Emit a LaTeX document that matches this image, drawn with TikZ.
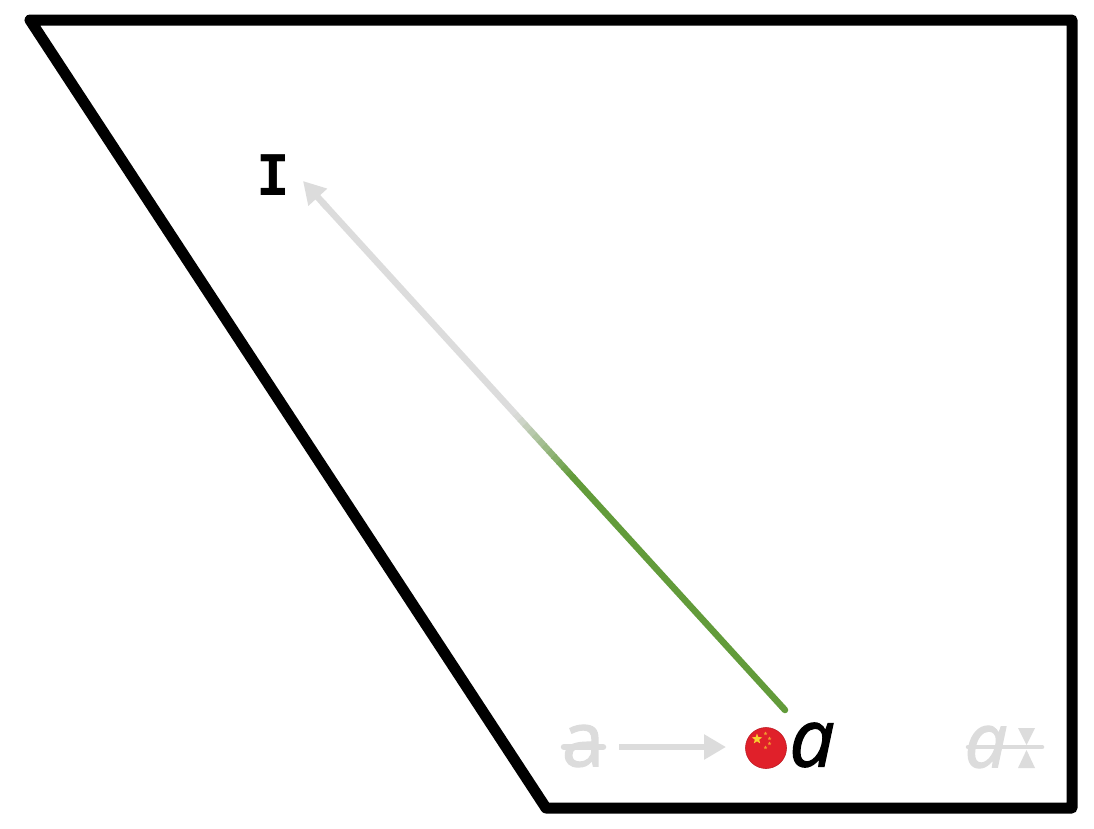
\documentclass[tikz,border=0pt]{standalone}
\usepackage{fontspec}
\setmainfont{Open Sans}
\newfontfamily\monoI{DejaVu Sans Mono}
\newfontfamily\heavyA[FakeBold=1.6]{Open Sans}
\newfontfamily\heavyAit[FakeBold=1.6,ItalicFont={Open Sans Italic}]{Open Sans}
\usetikzlibrary{arrows.meta,calc,shapes.geometric}
\definecolor{ghost}{HTML}{DCDCDC}
\definecolor{leaf}{HTML}{629B3A}
\definecolor{flagred}{HTML}{E0202A}
\definecolor{flagyellow}{HTML}{F8D030}
\tikzset{
  frameline/.style={draw=black,line width=11pt,line join=round,line cap=round},
  ghostline/.style={draw=ghost,line width=6.5pt,line cap=round},
  ghostarrow/.style={ghostline,line cap=butt,-{Triangle[length=22pt,width=24pt]}},
  ghostglyph/.style={text=ghost,inner sep=0pt,font=\fontsize{76}{76}\selectfont\heavyA},
  inkglyph/.style={text=black,inner sep=0pt,font=\fontsize{80}{80}\selectfont\heavyAit\itshape},
  bigstar/.style={star,star points=5,star point ratio=2.4,fill=flagyellow,inner sep=0pt,minimum size=11pt},
  tinystar/.style={star,star points=5,star point ratio=2.2,fill=flagyellow!70!flagred,inner sep=0pt,minimum size=4pt},
  marktri/.style={fill=ghost,draw=none},
}
\begin{document}
\begin{tikzpicture}[x=1pt,y=-1pt]
\useasboundingbox (0,0) rectangle (1094,828);
\fill[white] (0,0) rectangle (1094,828);
% frame
\coordinate (p1) at (30,20);
\coordinate (p2) at (1072,20);
\coordinate (p3) at (1072,808);
\coordinate (p4) at (546,808);
\draw[frameline] (p1) -- (p2) -- (p3) -- (p4) -- cycle;
% labels
\node[inner sep=0pt,font=\fontsize{56}{56}\selectfont\monoI\bfseries] (ilabel) at (273,175) {I};
% long stem, grey towards I and green towards a
\coordinate (stemgrey) at (303,181);
\coordinate (stemgreen) at (785,710);
\draw[ghostarrow] ($(stemgrey)!0.05!(stemgreen)$) -- (stemgrey);
\draw[ghostline,line cap=butt] ($(stemgrey)!0.04!(stemgreen)$) -- ($(stemgrey)!0.44!(stemgreen)$);
\foreach \t in {0,1,...,11}{
  \pgfmathsetmacro{\ta}{0.44+\t*0.01}
  \pgfmathsetmacro{\tb}{\ta+0.0115}
  \pgfmathsetmacro{\mixv}{(\t+0.5)*100/12}
  \draw[draw=leaf!\mixv!ghost,line width=6.5pt] ($(stemgrey)!\ta!(stemgreen)$) -- ($(stemgrey)!\tb!(stemgreen)$);
}
\draw[draw=leaf,line width=6.5pt,line cap=round] ($(stemgrey)!0.56!(stemgreen)$) -- (stemgreen);
% bottom row
\node[ghostglyph] (plain) at (583,746) {a};
\draw[ghostline] (564,747) -- (603,747);
\coordinate (arrowstart) at (619,747);
\coordinate (arrowend) at (726,747);
\draw[ghostarrow] (arrowstart) -- (arrowend);
\node[circle,fill=flagred,draw=flagred!85!black,line width=0.6pt,minimum size=41pt,inner sep=0pt] (flag) at (766,748) {};
\node[bigstar] (s0) at (757,739) {};
\node[tinystar] (s1) at (765.5,733.5) {};
\node[tinystar] (s2) at (769.5,738.5) {};
\node[tinystar] (s3) at (769.5,743.5) {};
\node[tinystar] (s4) at (765.5,747.5) {};
\node[inkglyph] (ink) at (812,745) {a};
% right group
\node[ghostglyph,font=\fontsize{76}{76}\selectfont\heavyAit\itshape] (tone) at (986,747) {a};
\draw[ghostline,line width=4.5pt] (968,747) -- (1042,747);
\fill[marktri] (1018,728) -- (1035,728) -- (1026.5,745) -- cycle;
\fill[marktri] (1018,768) -- (1035,768) -- (1026.5,750) -- cycle;
\end{tikzpicture}
\end{document}
